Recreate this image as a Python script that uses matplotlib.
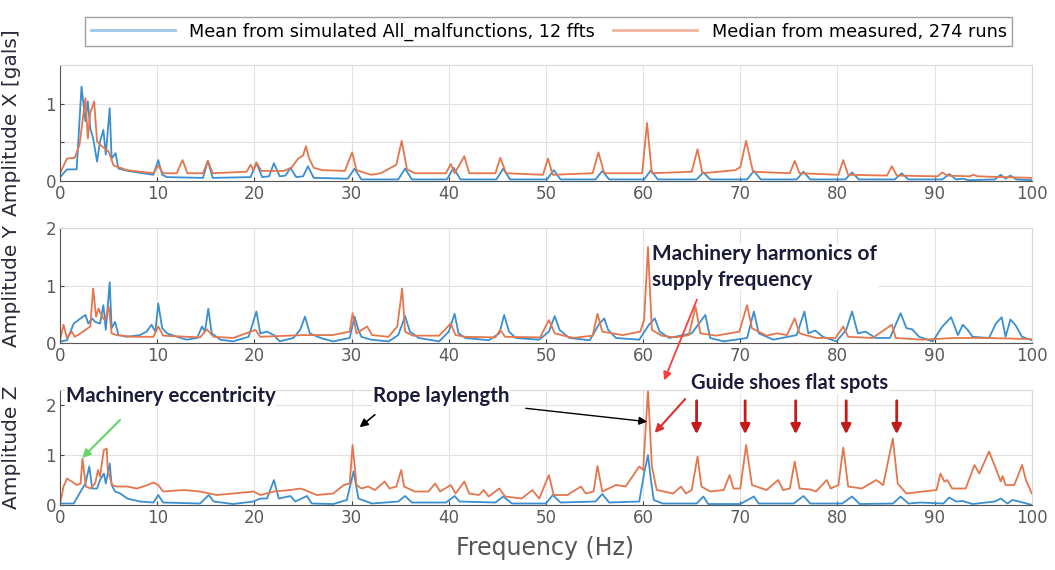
import numpy as np
import matplotlib
matplotlib.use("Agg")
import matplotlib.pyplot as plt
from matplotlib.lines import Line2D

# X direction spectra (frequency Hz, amplitude gals)
x_sim_f = [0, 0.7, 1.7, 2.2, 2.6, 2.85, 3.1, 3.4, 3.8, 4.1, 4.45, 4.7, 5.1, 5.3, 5.7, 6.0, 7.0, 8.5, 9.6,
           10.1, 10.5, 11, 14.7, 15.2, 15.7, 19.6, 20.2, 20.8, 21.5, 22.0, 22.6, 23.2, 23.7, 24.3, 25.0, 25.5,
           26.1, 29.6, 30.3, 31.0, 34.8, 35.5, 36.2, 39.8, 40.5, 41.2, 44.9, 45.6, 46.3, 50.1, 50.8, 51.5,
           55.1, 55.8, 56.5, 60.1, 60.8, 61.5, 65.5, 66.2, 66.9, 70.7, 71.4, 72.1, 75.8, 76.5, 77.2, 80.8,
           81.5, 82.2, 85.9, 86.6, 87.3, 90.8, 91.5, 92.2, 92.9, 93.5, 96.2, 96.8, 97.3, 97.8, 98.4, 100]
x_sim_a = [0.05, 0.15, 0.15, 1.22, 0.77, 1.03, 0.68, 0.55, 0.25, 0.51, 0.66, 0.34, 0.94, 0.29, 0.36, 0.16,
           0.13, 0.1, 0.08, 0.27, 0.08, 0.05, 0.04, 0.26, 0.04, 0.05, 0.23, 0.05, 0.06, 0.23, 0.06, 0.07,
           0.17, 0.05, 0.06, 0.19, 0.04, 0.03, 0.16, 0.02, 0.02, 0.16, 0.02, 0.02, 0.17, 0.02, 0.02, 0.16,
           0.02, 0.02, 0.14, 0.02, 0.02, 0.13, 0.02, 0.02, 0.14, 0.02, 0.02, 0.11, 0.02, 0.02, 0.13, 0.02,
           0.02, 0.12, 0.02, 0.02, 0.11, 0.02, 0.02, 0.1, 0.02, 0.02, 0.09, 0.02, 0.03, 0.01, 0.02, 0.08,
           0.03, 0.07, 0.02, 0.01]
x_meas_f = [0, 0.7, 1.5, 2.0, 2.6, 2.85, 3.1, 3.5, 3.8, 4.3, 5.0, 5.5, 6.9, 8.2, 9.6, 10.1, 10.6, 12.0,
            12.6, 13.1, 14.7, 15.2, 15.7, 19.2, 19.6, 19.9, 20.2, 20.7, 23.0, 23.8, 24.5, 25.0, 25.3, 25.6,
            26.1, 27, 29.3, 30.05, 30.5, 32.0, 33.0, 34.6, 35.15, 35.7, 36.5, 39.7, 40.2, 40.6, 41.6, 42.1,
            44.8, 45.3, 45.9, 49.7, 50.2, 50.7, 54.8, 55.4, 56.0, 59.9, 60.4, 60.9, 65.0, 65.6, 66.1, 69.5,
            70.0, 70.6, 71.3, 75.1, 75.6, 76.1, 80.1, 80.6, 81.1, 85.1, 85.6, 86.1, 90.3, 90.8, 91.3, 93.6,
            94, 94.4, 100]
x_meas_a = [0.1, 0.29, 0.3, 0.47, 1.07, 0.55, 0.88, 1.03, 0.51, 0.45, 0.38, 0.2, 0.14, 0.12, 0.1, 0.2, 0.1,
            0.1, 0.27, 0.1, 0.1, 0.26, 0.1, 0.12, 0.21, 0.14, 0.24, 0.13, 0.13, 0.17, 0.29, 0.33, 0.45, 0.3,
            0.17, 0.14, 0.13, 0.37, 0.14, 0.08, 0.1, 0.21, 0.52, 0.15, 0.1, 0.1, 0.22, 0.1, 0.32, 0.1, 0.1,
            0.3, 0.1, 0.08, 0.29, 0.08, 0.1, 0.37, 0.1, 0.1, 0.75, 0.1, 0.12, 0.41, 0.1, 0.14, 0.18, 0.52,
            0.12, 0.1, 0.26, 0.1, 0.08, 0.27, 0.08, 0.07, 0.19, 0.07, 0.06, 0.11, 0.07, 0.06, 0.08, 0.06,
            0.04]

# Y direction spectra
y_sim_f = [0, 0.7, 1.4, 2.1, 2.6, 2.9, 3.3, 3.6, 4.1, 4.45, 4.7, 5.1, 5.3, 5.65, 6.0, 6.9, 8.2, 8.9, 9.4,
           9.8, 10.1, 10.5, 11, 11.7, 13.0, 14.1, 14.6, 14.9, 15.25, 15.6, 16.5, 17.8, 19.4, 20.2, 20.6,
           21.3, 22.0, 22.6, 24.0, 24.7, 25.2, 25.7, 26.8, 28.1, 29.8, 30.3, 30.7, 31.0, 32.0, 33.8, 34.8,
           35.5, 36.0, 36.9, 39.0, 40.0, 40.6, 41.0, 41.7, 44.1, 45.2, 45.7, 46.2, 46.9, 49.3, 50.3, 50.9,
           51.4, 52.4, 54.5, 55.5, 56.0, 56.4, 57.2, 59.6, 60.6, 61.2, 61.7, 62.7, 65.0, 66.4, 66.9, 68.3,
           70.7, 71.4, 71.9, 73.4, 75.8, 76.6, 77.0, 77.7, 78.5, 79.9, 80.9, 81.5, 82.1, 82.9, 83.9, 85.4,
           86.5, 87.1, 87.7, 88.4, 89.8, 90.8, 91.7, 92.4, 92.9, 93.4, 93.9, 95.6, 96.3, 96.9, 97.3, 97.8,
           98.3, 99.0, 100]
y_sim_a = [0.03, 0.05, 0.34, 0.43, 0.49, 0.34, 0.43, 0.37, 0.34, 0.66, 0.23, 1.06, 0.26, 0.37, 0.14, 0.11,
           0.14, 0.2, 0.32, 0.2, 0.69, 0.26, 0.17, 0.13, 0.06, 0.09, 0.29, 0.2, 0.6, 0.17, 0.06, 0.03, 0.11,
           0.55, 0.17, 0.2, 0.14, 0.03, 0.09, 0.23, 0.46, 0.17, 0.09, 0.03, 0.09, 0.46, 0.23, 0.11, 0.06,
           0.03, 0.14, 0.47, 0.2, 0.09, 0.03, 0.2, 0.51, 0.17, 0.09, 0.05, 0.17, 0.49, 0.2, 0.09, 0.06, 0.2,
           0.47, 0.23, 0.09, 0.05, 0.34, 0.43, 0.23, 0.09, 0.06, 0.32, 0.43, 0.2, 0.09, 0.17, 0.49, 0.09,
           0.03, 0.09, 0.55, 0.17, 0.06, 0.14, 0.55, 0.17, 0.22, 0.11, 0.03, 0.23, 0.55, 0.17, 0.2, 0.09,
           0.09, 0.52, 0.26, 0.24, 0.11, 0.03, 0.29, 0.45, 0.14, 0.32, 0.23, 0.11, 0.09, 0.34, 0.45, 0.11,
           0.41, 0.32, 0.11, 0.05]
y_meas_f = [0, 0.35, 0.7, 1.2, 1.5, 2.1, 3.1, 3.4, 3.7, 3.95, 4.3, 4.6, 5.0, 5.3, 5.8, 7.5, 9.6, 10.1,
            10.6, 14.4, 15.1, 15.8, 17.8, 20.1, 20.6, 25, 28, 29.8, 30.1, 30.5, 31.6, 32.1, 33.8, 34.7, 35.2,
            35.5, 36.3, 39.0, 40.2, 40.7, 41.7, 44.8, 45.3, 45.8, 49.4, 50.3, 50.9, 52.8, 54.8, 55.3, 55.8,
            57.9, 59.7, 60.1, 60.5, 60.9, 61.9, 63.3, 64.7, 65.4, 65.9, 67.5, 69.9, 70.7, 71.2, 72.7, 73.8,
            74.8, 75.6, 76.1, 77.8, 79.8, 80.6, 81.1, 83.6, 85.6, 86.0, 88.7, 92, 95.5, 100]
y_meas_a = [0.06, 0.32, 0.09, 0.2, 0.11, 0.17, 0.29, 0.95, 0.46, 0.6, 0.46, 0.4, 0.63, 0.17, 0.14, 0.11,
            0.11, 0.29, 0.13, 0.1, 0.24, 0.11, 0.09, 0.23, 0.11, 0.14, 0.14, 0.2, 0.52, 0.17, 0.29, 0.14,
            0.11, 0.29, 0.95, 0.2, 0.13, 0.13, 0.34, 0.14, 0.11, 0.1, 0.23, 0.11, 0.1, 0.4, 0.17, 0.09, 0.13,
            0.51, 0.2, 0.14, 0.2, 0.4, 1.67, 0.23, 0.13, 0.1, 0.14, 0.63, 0.17, 0.13, 0.2, 0.66, 0.26, 0.13,
            0.17, 0.14, 0.43, 0.17, 0.09, 0.09, 0.29, 0.11, 0.09, 0.32, 0.09, 0.06, 0.09, 0.09, 0.07]

# Z direction spectra
z_sim_f = [0, 1.4, 1.9, 2.2, 2.6, 3.0, 3.3, 3.8, 4.1, 4.5, 4.7, 5.1, 5.3, 5.65, 6.2, 6.9, 8.2, 9.6, 10.1,
           10.6, 14.4, 15.3, 15.8, 17.8, 19.9, 20.6, 21.3, 22.0, 22.5, 23.7, 24.2, 25.4, 25.9, 28.1, 29.5,
           30.2, 30.7, 32.1, 34.8, 35.5, 36.2, 39.7, 40.6, 41.1, 44.8, 45.6, 46.5, 50.0, 50.7, 51.5, 55.1,
           55.8, 56.5, 59.6, 60.1, 60.5, 60.8, 61.1, 62.0, 65.5, 66.2, 66.7, 70.0, 71.4, 71.9, 75.5, 76.5,
           77.2, 80.5, 81.5, 82.3, 85.7, 86.5, 87.3, 88.5, 90.9, 91.5, 92.2, 92.9, 93.9, 96.2, 96.8, 97.5,
           98.0, 98.7, 100]
z_sim_a = [0.03, 0.03, 0.2, 0.3, 0.43, 0.77, 0.33, 0.33, 0.5, 0.63, 0.43, 0.83, 0.4, 0.27, 0.23, 0.13, 0.07,
           0.05, 0.2, 0.05, 0.03, 0.2, 0.07, 0.02, 0.07, 0.13, 0.13, 0.5, 0.13, 0.18, 0.07, 0.18, 0.03, 0.02,
           0.1, 0.67, 0.13, 0.03, 0.07, 0.18, 0.05, 0.05, 0.18, 0.07, 0.05, 0.17, 0.03, 0.03, 0.2, 0.05, 0.07,
           0.22, 0.05, 0.07, 0.63, 1.0, 0.5, 0.1, 0.03, 0.03, 0.17, 0.02, 0.02, 0.17, 0.03, 0.03, 0.18, 0.03,
           0.03, 0.17, 0.02, 0.03, 0.17, 0.03, 0.05, 0.03, 0.15, 0.07, 0.08, 0.02, 0.07, 0.13, 0.03, 0.1,
           0.07, 0.0]
z_meas_f = [0, 0.35, 0.7, 1.2, 1.7, 2.1, 2.3, 2.65, 3.1, 3.6, 3.9, 4.1, 4.5, 4.8, 4.9, 5.35, 5.8, 6.9, 7.9,
            9.0, 9.6, 10.1, 10.6, 12.7, 14.4, 16.1, 17.8, 19.9, 20.6, 22.0, 23.7, 24.7, 25.2, 26.4, 28.1,
            29.2, 29.8, 30.1, 30.5, 31.0, 31.7, 32.4, 33.4, 33.9, 34.6, 35.1, 35.4, 36.5, 37.9, 38.6, 39.1,
            40.2, 40.7, 41.6, 42.1, 43.1, 43.6, 44.1, 45.2, 45.8, 47.5, 48.6, 49.3, 50.3, 50.8, 52.2, 53.6,
            54.1, 54.9, 55.3, 55.8, 57.2, 58.2, 59.6, 60.0, 60.5, 60.9, 61.4, 63.1, 63.9, 64.4, 65.0, 65.6,
            66.0, 66.9, 68.3, 68.9, 69.3, 70.0, 70.6, 71.2, 72.7, 73.9, 74.4, 75.1, 75.6, 76.1, 77.2, 77.8,
            78.9, 79.3, 80.1, 80.6, 81.1, 82.5, 84.0, 84.7, 85.7, 86.2, 87.1, 88.8, 90.2, 90.6, 91.0, 91.3,
            91.8, 93.2, 94.1, 94.6, 95.6, 96.3, 96.8, 97.0, 97.3, 98.2, 99.0, 99.4, 100]
z_meas_a = [0.03, 0.37, 0.53, 0.47, 0.4, 0.43, 0.93, 0.37, 0.33, 0.43, 0.7, 0.57, 1.1, 1.13, 0.7, 0.4, 0.37,
            0.37, 0.33, 0.4, 0.45, 0.4, 0.27, 0.3, 0.27, 0.2, 0.23, 0.27, 0.2, 0.27, 0.3, 0.33, 0.3, 0.2,
            0.23, 0.4, 0.43, 1.2, 0.4, 0.33, 0.37, 0.3, 0.47, 0.33, 0.37, 0.7, 0.37, 0.27, 0.27, 0.43, 0.27,
            0.4, 0.23, 0.47, 0.23, 0.2, 0.3, 0.17, 0.33, 0.17, 0.13, 0.3, 0.13, 0.6, 0.2, 0.2, 0.37, 0.23,
            0.27, 0.78, 0.27, 0.4, 0.37, 0.77, 0.7, 2.3, 0.77, 0.3, 0.23, 0.37, 0.23, 0.3, 0.97, 0.37, 0.27,
            0.3, 0.6, 0.33, 0.33, 1.2, 0.4, 0.3, 0.5, 0.3, 0.33, 0.87, 0.33, 0.31, 0.27, 0.5, 0.33, 0.4,
            1.15, 0.37, 0.33, 0.5, 0.4, 1.33, 0.43, 0.23, 0.27, 0.3, 0.63, 0.47, 0.5, 0.33, 0.33, 0.8, 0.63,
            1.07, 0.73, 0.47, 0.58, 0.4, 0.4, 0.8, 0.5, 0.23]

# guide shoe flat spot markers (Hz)
flat_spot_f = [65.5, 70.5, 75.7, 80.9, 86.1]

BLUE = '#3a8fd0'
ORANGE = '#e4764e'
TICK_GRAY = '#5a5a5a'
NOTE = '#1c1c3a'

plt.rcParams['font.family'] = ['DejaVu Sans']

fig = plt.figure(figsize=(10.55, 5.7), dpi=100)
ax1 = fig.add_axes([0.057, 0.6825, 0.921, 0.2035])
ax2 = fig.add_axes([0.057, 0.398, 0.921, 0.2018])
ax3 = fig.add_axes([0.057, 0.114, 0.921, 0.2018])

panels = [
    (ax1, x_sim_f, x_sim_a, x_meas_f, x_meas_a, 'Amplitude X [gals]', 1.5, [0, 0.5, 1], ['0', '', '1']),
    (ax2, y_sim_f, y_sim_a, y_meas_f, y_meas_a, 'Amplitude Y', 2.0, [0, 1, 2], ['0', '1', '2']),
    (ax3, z_sim_f, z_sim_a, z_meas_f, z_meas_a, 'Amplitude Z', 2.3, [0, 1, 2], ['0', '1', '2']),
]

for ax, sf, sa, mf, ma, lab, ytop, yt, ytl in panels:
    ax.plot(sf, sa, color=BLUE, lw=1.3)
    ax.plot(mf, ma, color=ORANGE, lw=1.3)
    ax.set_xlim(0, 100)
    ax.set_ylim(0, ytop)
    ax.set_xticks(np.arange(0, 101, 10))
    ax.set_yticks(yt)
    ax.set_yticklabels(ytl)
    ax.grid(True, color='#e2e2e2', lw=0.8)
    ax.set_axisbelow(True)
    ax.tick_params(direction='in', length=3, colors='#444444', labelcolor=TICK_GRAY,
                   labelsize=12, pad=3)
    for side in ['top', 'right']:
        ax.spines[side].set_color('#d8d8d8')
    for side in ['left', 'bottom']:
        ax.spines[side].set_color('#555555')
    ax.set_ylabel(lab, fontsize=14.5, color='#2a2a3a')
    ax.yaxis.set_label_coords(-0.04, 0.5)

fig.text(0.517, 0.038, 'Frequency (Hz)', fontsize=17, color='#555555', ha='center', va='center')

handles = [Line2D([], [], color='#9cc6e8', lw=2), Line2D([], [], color='#f0b49c', lw=2)]
fig.legend(handles, ['Mean from simulated All_malfunctions, 12 ffts', 'Median from measured, 274 runs'],
           loc='upper center', bbox_to_anchor=(0.52, 0.985), ncol=2, fontsize=12.7,
           handlelength=4.8, columnspacing=1.0, frameon=True, fancybox=False,
           edgecolor='#888888', borderpad=0.3)

note_font = dict(fontfamily=['Lato', 'DejaVu Sans'], fontweight='bold', color=NOTE)
wbox = dict(facecolor='white', edgecolor='none', pad=0.5)
fig.text(652 / 1055, 1 - 267 / 570, 'Machinery harmonics of\nsupply frequency', fontsize=15,
         ha='left', va='center', linespacing=1.35, bbox=wbox, **note_font)
fig.text(66 / 1055, 1 - 396 / 570, 'Machinery eccentricity', fontsize=14.8,
         ha='left', va='center', bbox=wbox, **note_font)
fig.text(373 / 1055, 1 - 396 / 570, 'Rope laylength', fontsize=14.8,
         ha='left', va='center', bbox=wbox, **note_font)
fig.text(691 / 1055, 1 - 383 / 570, 'Guide shoes flat spots', fontsize=14.5,
         ha='left', va='center', bbox=wbox, **note_font)

def arrow(xy, xytext, color, xycoords='data', lw=1.3, ms=12):
    ax3.annotate('', xy=xy, xycoords=xycoords, xytext=xytext, textcoords='figure fraction',
                 arrowprops=dict(arrowstyle='-|>', color=color, lw=lw, mutation_scale=ms),
                 annotation_clip=False)

arrow((2.06, 0.9), (122 / 1055, 1 - 418 / 570), '#66d466', lw=1.5)
arrow((30.6, 1.52), (377 / 1055, 1 - 413 / 570), 'black', lw=1.2)
arrow((60.7, 1.66), (523 / 1055, 1 - 408 / 570), 'black', lw=1.0)
arrow((663 / 1055, 1 - 383 / 570), (698 / 1055, 1 - 297 / 570), '#ff3b3b', xycoords='figure fraction')
arrow((61.0, 1.4), (687 / 1055, 1 - 397 / 570), '#d83030', lw=1.5)
for f in flat_spot_f:
    arrow((f, 1.36), (ax3.transData.transform((f, 2.14)) / fig.bbox.size), '#c41a1a', lw=2, ms=14)

fig.savefig('out.png', dpi=100)
